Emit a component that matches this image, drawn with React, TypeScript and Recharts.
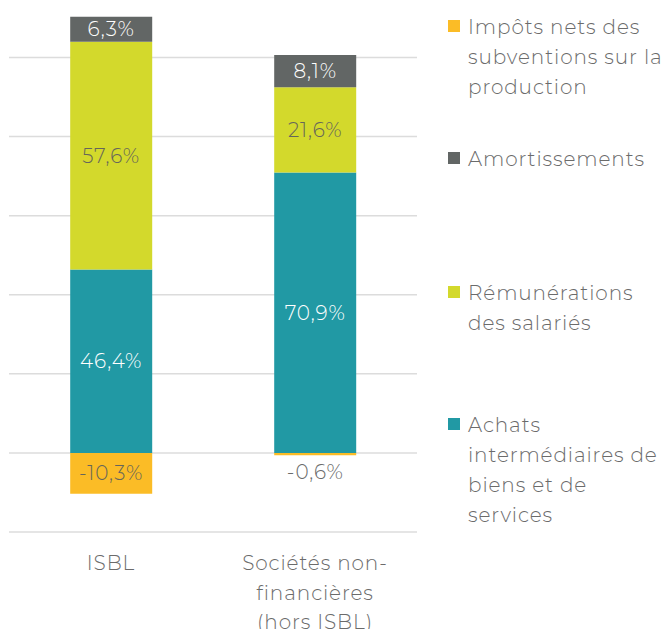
import React from "react";
import { BarChart, Bar, XAxis, YAxis, CartesianGrid, LabelList } from "recharts";

const categories = ["ISBL", "Sociétés non-\nfinancières\n(hors ISBL)"];
const achats = [46.4, 70.9];
const remunerations = [57.6, 21.6];
const amortissements = [6.3, 8.1];
const impots = [-10.3, -0.6];

const yTicks = [-20, 0, 20, 40, 60, 80, 100];
const yDomain = [-20, 111];

const legendItems = [
  { label: ["Impôts nets des", "subventions sur la", "production"], color: "#FBBC26", top: 12 },
  { label: ["Amortissements"], color: "#626665", top: 144 },
  { label: ["Rémunérations", "des salariés"], color: "#D3D92C", top: 278 },
  { label: ["Achats", "intermédiaires de", "biens et de", "services"], color: "#2199A4", top: 410 },
];

const data = categories.map((name, i) => ({
  name,
  achats: achats[i],
  remunerations: remunerations[i],
  amortissements: amortissements[i],
  impots: impots[i],
}));

const FONT = "Montserrat, 'Open Sans', sans-serif";
const TEXT = "#6b6b6b";
const SPACING = "0.9px";

const fmt = (v: number) => `${v.toFixed(1).replace(".", ",")}%`;

const makeLabel = (color: string) => (props: any) => {
  const { x, y, width, height, value } = props;
  const h = Math.abs(height);
  const top = Math.min(y, y + height);
  let cy = top + h / 2;
  let fill = color;
  if (h < 22) {
    cy = top + h + 17;
    fill = TEXT;
  }
  return (
    <text
      x={x + width / 2}
      y={cy}
      textAnchor="middle"
      dominantBaseline="central"
      fill={fill}
      fontSize={20}
      fontFamily={FONT}
      fontWeight={300}
      letterSpacing={SPACING}
    >
      {fmt(value)}
    </text>
  );
};

const CategoryTick = ({ x, y, payload }: any) => {
  const lines = String(payload.value).split("\n");
  return (
    <text
      x={x}
      y={y}
      textAnchor="middle"
      fill={TEXT}
      fontSize={20}
      fontFamily={FONT}
      fontWeight={300}
      letterSpacing={SPACING}
    >
      {lines.map((l, i) => (
        <tspan key={i} x={x} dy={i === 0 ? 30 : 29.5}>
          {l}
        </tspan>
      ))}
    </text>
  );
};

// grid only on the tick values (no line at the top edge of the plot)
const gridRows = ({ yAxis, offset }: any) => {
  if (yAxis && typeof yAxis.scale === "function") return yTicks.map((t) => yAxis.scale(t));
  const [lo, hi] = yDomain;
  return yTicks.map((t) => offset.top + (offset.height * (hi - t)) / (hi - lo));
};

export default function App() {
  return (
    <div style={{ position: "relative", width: 669, height: 637, margin: -8, background: "#fff", overflow: "hidden" }}>
      <BarChart
        width={430}
        height={652}
        data={data}
        stackOffset="sign"
        barCategoryGap="30%"
        margin={{ top: 14, right: 13, left: 9, bottom: 0 }}
      >
        <CartesianGrid
          vertical={false}
          stroke="#dcdcdc"
          strokeWidth={1.5}
          horizontalCoordinatesGenerator={gridRows}
        />
        <XAxis
          dataKey="name"
          axisLine={false}
          tickLine={false}
          height={120}
          interval={0}
          tick={<CategoryTick />}
        />
        <YAxis hide domain={yDomain} ticks={yTicks} allowDataOverflow />
        <Bar dataKey="achats" stackId="a" fill="#2199A4" isAnimationActive={false}>
          <LabelList dataKey="achats" content={makeLabel("#ffffff")} />
        </Bar>
        <Bar dataKey="remunerations" stackId="a" fill="#D3D92C" isAnimationActive={false}>
          <LabelList dataKey="remunerations" content={makeLabel("#66665a")} />
        </Bar>
        <Bar dataKey="amortissements" stackId="a" fill="#626665" isAnimationActive={false}>
          <LabelList dataKey="amortissements" content={makeLabel("#ffffff")} />
        </Bar>
        <Bar dataKey="impots" stackId="a" fill="#FBBC26" isAnimationActive={false}>
          <LabelList dataKey="impots" content={makeLabel("#66665a")} />
        </Bar>
      </BarChart>
      {legendItems.map((item) => (
        <div
          key={item.color}
          style={{
            position: "absolute",
            left: 448,
            top: item.top,
            fontFamily: FONT,
            fontWeight: 300,
            fontSize: 20,
            letterSpacing: SPACING,
            lineHeight: "30px",
            color: TEXT,
          }}
        >
          <span
            style={{
              position: "absolute",
              left: 0,
              top: 8,
              width: 12,
              height: 12,
              background: item.color,
            }}
          />
          <div style={{ paddingLeft: 20 }}>
            {item.label.map((l, i) => (
              <div key={i} style={{ whiteSpace: "nowrap" }}>
                {l}
              </div>
            ))}
          </div>
        </div>
      ))}
    </div>
  );
}
